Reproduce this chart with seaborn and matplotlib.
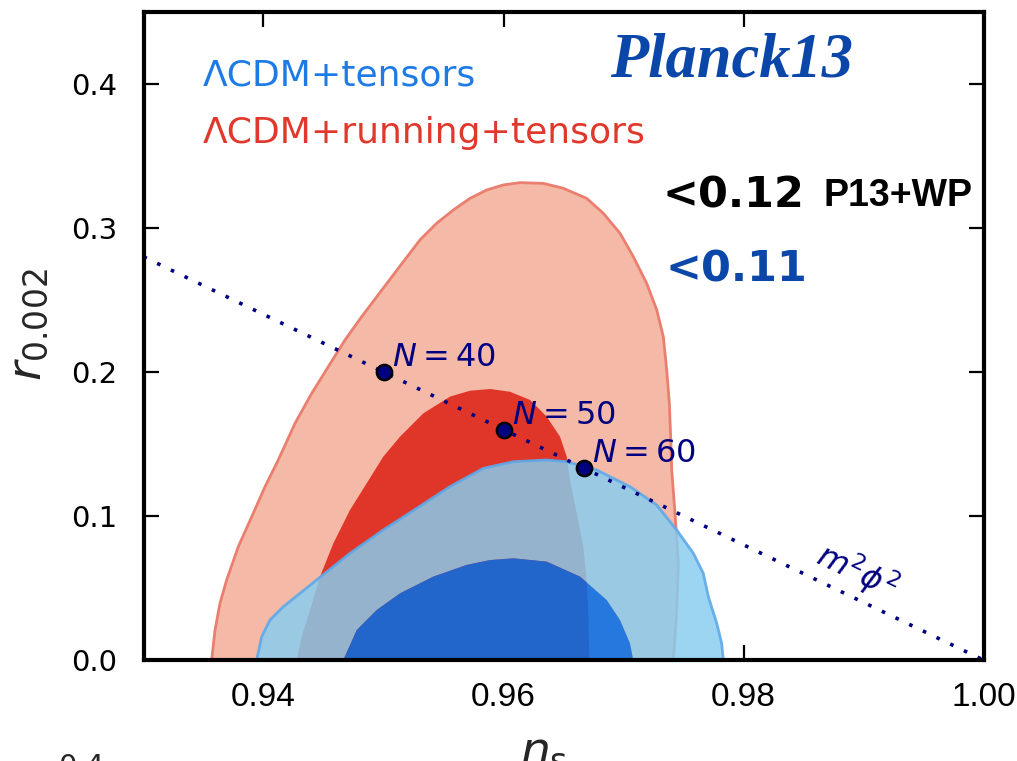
import numpy as np
import pandas as pd
import matplotlib
matplotlib.use("Agg")
import matplotlib.pyplot as plt
from matplotlib import font_manager
import seaborn as sns

# ---------------- data ----------------
# Contour boundaries (n_s, r), traced from left base over the top to right base
RED95_NS = [0.93568, 0.93596, 0.93638, 0.93693, 0.93790, 0.93902, 0.94013, 0.94123,
            0.94263, 0.94402, 0.94540, 0.94679, 0.94818, 0.94985, 0.95179, 0.95304,
            0.95443, 0.95582, 0.95721, 0.95860, 0.95998, 0.96138, 0.96332, 0.96498,
            0.96693, 0.96832, 0.96971, 0.97082, 0.97193, 0.97277, 0.97332, 0.97360,
            0.97382, 0.97393, 0.97402, 0.97429, 0.97457, 0.97443, 0.97415]
RED95_R = [0.0, 0.0208, 0.0396, 0.0556, 0.0787, 0.0995, 0.1204, 0.1389,
           0.1644, 0.1852, 0.2037, 0.2222, 0.2384, 0.2568, 0.2781, 0.2917,
           0.3033, 0.3125, 0.3206, 0.3264, 0.3299, 0.3315, 0.3310, 0.3276,
           0.3206, 0.3102, 0.2963, 0.2801, 0.2616, 0.2431, 0.2245, 0.2014,
           0.1783, 0.1551, 0.1319, 0.1021, 0.0671, 0.0326, 0.0]

RED68_NS = [0.94277, 0.94318, 0.94388, 0.94471, 0.94582, 0.94721, 0.94860, 0.94998,
            0.95138, 0.95332, 0.95554, 0.95721, 0.95888, 0.96054, 0.96221, 0.96360,
            0.96471, 0.96527, 0.96554, 0.96610, 0.96665, 0.96693, 0.96707, 0.96715]
RED68_R = [0.0, 0.0162, 0.0347, 0.0579, 0.0810, 0.1042, 0.1227, 0.1412,
           0.1551, 0.1713, 0.1829, 0.1870, 0.1882, 0.1863, 0.1806, 0.1690,
           0.1551, 0.1412, 0.1250, 0.1019, 0.0787, 0.0556, 0.0326, 0.0]

BLUE95_NS = [0.93943, 0.93985, 0.94054, 0.94165, 0.94304, 0.94443, 0.94721, 0.94998,
             0.95277, 0.95554, 0.95832, 0.96082, 0.96360, 0.96527, 0.96777, 0.97054,
             0.97277, 0.97443, 0.97582, 0.97665, 0.97707, 0.97777, 0.97818, 0.97832]
BLUE95_R = [0.0, 0.0162, 0.0278, 0.0370, 0.0463, 0.0556, 0.0741, 0.0903,
            0.1053, 0.1204, 0.1331, 0.1377, 0.1389, 0.1377, 0.1319, 0.1204,
            0.1076, 0.0903, 0.0741, 0.0602, 0.0440, 0.0255, 0.0116, 0.0]

BLUE68_NS = [0.94665, 0.94777, 0.94943, 0.95138, 0.95415, 0.95693, 0.95888, 0.96082,
             0.96360, 0.96638, 0.96860, 0.96971, 0.97054, 0.97082]
BLUE68_R = [0.0, 0.0208, 0.0347, 0.0463, 0.0579, 0.0660, 0.0694, 0.0706,
            0.0683, 0.0579, 0.0417, 0.0278, 0.0116, 0.0]

# m^2 phi^2 prediction line and e-fold points
MPHI_NS = [0.93, 1.00]
MPHI_R = [0.28, 0.0]
EFOLD_LABELS = ["$N=40$", "$N=50$", "$N=60$"]
EFOLD_NS = [0.95, 0.96, 0.9667]
EFOLD_R = [0.20, 0.16, 0.1333]

XTICKS = [0.94, 0.96, 0.98, 1.00]
XTICKLABELS = ["0.94", "0.96", "0.98", "1.00"]
YTICKS = [0.0, 0.1, 0.2, 0.3, 0.4]
YTICKLABELS = ["0.0", "0.1", "0.2", "0.3", "0.4"]

LEGEND_LABELS = ["\u039bCDM+tensors", "\u039bCDM+running+tensors"]
TITLE = "Planck13"
BOUND_ALL = "<0.12"
BOUND_TAG = "P13+WP"
BOUND_BLUE = "<0.11"
LINE_LABEL = r"$m^2\phi^2$"

# ---------------- style ----------------
sns.set_style("ticks")
plt.rcParams["font.family"] = ["DejaVu Sans"]
plt.rcParams["mathtext.fontset"] = "dejavusans"

names = {f.name for f in font_manager.fontManager.ttflist}
HAVE_NARROW = "Liberation Sans Narrow" in names
NARROW = ["Liberation Sans Narrow", "DejaVu Sans"] if HAVE_NARROW else ["Liberation Sans", "DejaVu Sans"]

NAVY = "#000080"
C_RED95 = "#F5B9A7"
C_RED95_EDGE = "#EA7F6F"
C_RED68 = "#E0362A"
C_BLUE95 = "#87CDF0"
C_BLUE95_EDGE = "#5DA9E9"
C_BLUE68 = "#006EE8"
C_LEG_BLUE = "#1E7BE6"
C_LEG_RED = "#E0382B"
C_DARKBLUE = "#0B47A8"

fig = plt.figure(figsize=(10.17, 7.61), dpi=100)
ax = fig.add_axes([143.5 / 1017, 101 / 761, 840 / 1017, 648 / 761])

# ---------------- contours ----------------
ax.fill(RED95_NS, RED95_R, facecolor=C_RED95, edgecolor=C_RED95_EDGE, linewidth=2.0,
        joinstyle="round", zorder=1)
ax.fill(RED68_NS, RED68_R, facecolor=C_RED68, edgecolor="none", zorder=2)

# blue group drawn as ring + core so the group transparency does not compound
ring_ns = list(BLUE95_NS) + list(BLUE68_NS)[::-1]
ring_r = list(BLUE95_R) + list(BLUE68_R)[::-1]
ax.fill(ring_ns, ring_r, facecolor=C_BLUE95, edgecolor="none", alpha=0.83, zorder=3)
ax.fill(BLUE68_NS, BLUE68_R, facecolor=C_BLUE68, edgecolor="none", alpha=0.85, zorder=3)
ax.plot(BLUE95_NS, BLUE95_R, color=C_BLUE95_EDGE, linewidth=2.0, alpha=0.9,
        solid_joinstyle="round", zorder=4)

# ---------------- m^2 phi^2 line and points ----------------
line_df = pd.DataFrame({"ns": MPHI_NS, "r": MPHI_R})
sns.lineplot(data=line_df, x="ns", y="r", ax=ax, color=NAVY, linewidth=2.6,
             linestyle=(0, (1, 3.2)), zorder=5, sort=False)
ax.lines[-1].set_dash_capstyle("butt")

pts_df = pd.DataFrame({"ns": EFOLD_NS, "r": EFOLD_R, "label": EFOLD_LABELS})
sns.scatterplot(data=pts_df, x="ns", y="r", ax=ax, color=NAVY, s=120,
                edgecolor="black", linewidth=1.8, zorder=6, legend=False)
for _, row in pts_df.iterrows():
    ax.annotate(row["label"], (row["ns"], row["r"]), xytext=(6.0, 4), textcoords="offset points",
                ha="left", va="baseline", color=NAVY, fontsize=23, zorder=7)

ax.text(0.98945, 0.0615, LINE_LABEL, color=NAVY, fontsize=23, rotation=-25.6,
        rotation_mode="anchor", ha="center", va="center", zorder=7)

# ---------------- annotations ----------------
ax.text(0.93496, 0.399, LEGEND_LABELS[0], color=C_LEG_BLUE, fontsize=26, ha="left", va="baseline")
ax.text(0.93496, 0.359, LEGEND_LABELS[1], color=C_LEG_RED, fontsize=26, ha="left", va="baseline")
ax.text(0.96890, 0.405, TITLE, color=C_DARKBLUE, fontsize=45, fontweight="bold",
        fontstyle="italic", family=["Liberation Serif", "DejaVu Serif"], ha="left", va="baseline")
ax.text(0.97321, 0.314, BOUND_ALL, color="black", fontsize=31, fontweight="bold",
        ha="left", va="baseline")
ax.text(0.98663, 0.315, BOUND_TAG, color="black", fontsize=(31 if HAVE_NARROW else 27),
        fontweight="bold", family=NARROW, ha="left", va="baseline")
ax.text(0.97346, 0.263, BOUND_BLUE, color=C_DARKBLUE, fontsize=31, fontweight="bold",
        ha="left", va="baseline")

# ---------------- axes ----------------
ax.set_xlim(0.93, 1.00)
ax.set_ylim(0.0, 0.45)
ax.set_xticks(XTICKS)
ax.set_xticklabels(XTICKLABELS, family=NARROW, fontsize=(28 if HAVE_NARROW else 24))
ax.set_yticks(YTICKS)
ax.set_yticklabels(YTICKLABELS, fontsize=21)
ax.tick_params(direction="in", length=11, width=1.6, top=True, right=True, colors="black")
ax.tick_params(axis="x", pad=16)
ax.tick_params(axis="y", pad=19)
for sp in ax.spines.values():
    sp.set_visible(True)
    sp.set_linewidth(3.0)
    sp.set_color("black")
    sp.set_zorder(10)

ax.set_xlabel(r"$n_\mathrm{s}$", fontsize=34)
ax.set_ylabel(r"$r_{0.002}$", fontsize=34)
ax.xaxis.set_label_coords(0.476, -0.108)
ax.yaxis.set_label_coords(-0.111, 0.517)

# partial tick label of the panel below (cropped at the bottom edge, as in the reference)
fig.text(0.057, 0.0105, "0.4", fontsize=21, ha="left", va="top")

fig.savefig("out.png", dpi=100)
